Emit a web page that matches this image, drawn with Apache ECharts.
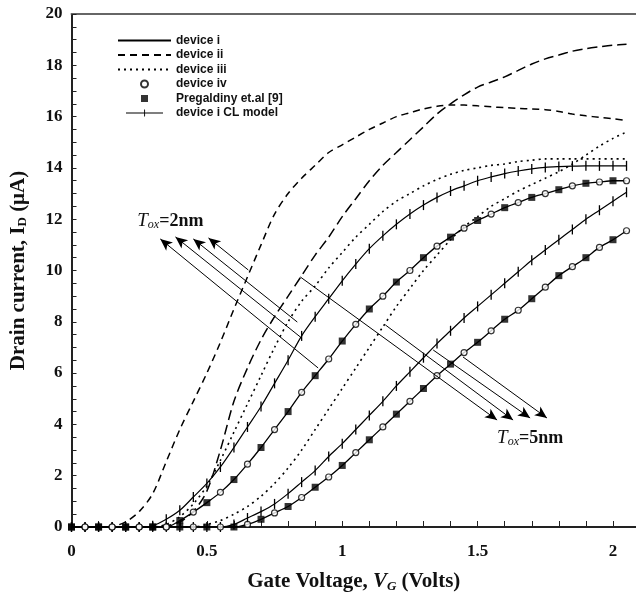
<!DOCTYPE html>
<html>
<head>
<meta charset="utf-8">
<script src="https://cdn.jsdelivr.net/npm/echarts@6/dist/echarts.min.js"></script>
<style>
  html, body { margin: 0; padding: 0; background: #fff; }
  #chart { width: 636px; height: 600px; }
</style>
</head>
<body>
<div id="chart"></div>
<script>
// gate voltage grid (V)
var vg = [0, 0.05, 0.1, 0.15, 0.2, 0.25, 0.3, 0.35, 0.4, 0.45, 0.5, 0.55, 0.6, 0.65, 0.7, 0.75, 0.8, 0.85, 0.9, 0.95,
  1, 1.05, 1.1, 1.15, 1.2, 1.25, 1.3, 1.35, 1.4, 1.45, 1.5, 1.55, 1.6, 1.65, 1.7, 1.75, 1.8, 1.85, 1.9, 1.95, 2, 2.05];

// drain current (uA), Tox = 2nm curves
var devI_2nm = [0, 0, 0, 0, 0, 0, 0, 0, 0.25, 0.58, 0.95, 1.35, 1.85, 2.45, 3.1, 3.8, 4.5, 5.25, 5.9, 6.55,
  7.25, 7.9, 8.5, 9.0, 9.55, 10.0, 10.5, 10.95, 11.3, 11.65, 11.95, 12.2, 12.45, 12.65, 12.85, 13.0, 13.15, 13.3, 13.4, 13.45, 13.5, 13.5];
var devII_2nm = [0, 0, 0, 0.02, 0.2, 0.6, 1.3, 2.55, 3.8, 4.9, 6.0, 7.2, 8.5, 9.75, 11.0, 12.2, 13.0, 13.6, 14.1, 14.6,
  14.9, 15.2, 15.5, 15.75, 16.0, 16.15, 16.3, 16.4, 16.45, 16.45, 16.42, 16.38, 16.35, 16.32, 16.3, 16.27, 16.2, 16.1, 16.03, 15.97, 15.92, 15.85];
var devIII_2nm = [0, 0, 0, 0, 0, 0, 0, 0.1, 0.4, 0.9, 1.6, 2.6, 3.7, 4.8, 5.9, 7.0, 8.0, 8.8, 9.4, 10.1,
  10.7, 11.3, 11.8, 12.3, 12.7, 13.0, 13.3, 13.55, 13.75, 13.9, 14.0, 14.1, 14.15, 14.25, 14.3, 14.35, 14.35, 14.35, 14.35, 14.35, 14.35, 14.35];
var clModel_2nm = [0, 0, 0, 0, 0, 0, 0.05, 0.3, 0.65, 1.17, 1.7, 2.34, 3.1, 3.9, 4.7, 5.6, 6.5, 7.45, 8.2, 8.9,
  9.6, 10.25, 10.85, 11.35, 11.8, 12.2, 12.55, 12.85, 13.1, 13.3, 13.5, 13.65, 13.78, 13.88, 13.96, 14.02, 14.05, 14.07, 14.08, 14.08, 14.08, 14.08];

// drain current (uA), Tox = 5nm curves
var devI_5nm = [0, 0, 0, 0, 0, 0, 0, 0, 0, 0, 0, 0, 0, 0.1, 0.3, 0.55, 0.8, 1.15, 1.55, 1.95,
  2.4, 2.9, 3.4, 3.9, 4.4, 4.9, 5.4, 5.9, 6.35, 6.8, 7.2, 7.65, 8.1, 8.45, 8.9, 9.35, 9.8, 10.15, 10.5, 10.9, 11.2, 11.55];
var devII_5nm = [0, 0, 0, 0, 0, 0, 0, 0.05, 0.2, 0.6, 1.4, 3.0, 4.9, 6.2, 7.3, 8.2, 9.0, 9.8, 10.6, 11.3,
  12.1, 12.8, 13.5, 14.1, 14.6, 15.1, 15.6, 16.1, 16.5, 16.85, 17.15, 17.35, 17.55, 17.8, 18.05, 18.25, 18.4, 18.55, 18.65, 18.72, 18.78, 18.82];
var devIII_5nm = [0, 0, 0, 0, 0, 0, 0, 0, 0, 0, 0.1, 0.25, 0.5, 0.8, 1.2, 1.7, 2.3, 3.0, 3.8, 4.6,
  5.4, 6.2, 7.0, 7.8, 8.6, 9.3, 10.0, 10.6, 11.2, 11.7, 12.1, 12.5, 12.8, 13.1, 13.35, 13.6, 13.85, 14.15, 14.5, 14.85, 15.15, 15.4];
var clModel_5nm = [0, 0, 0, 0, 0, 0, 0, 0, 0, 0, 0, 0, 0.1, 0.35, 0.6, 0.9, 1.3, 1.75, 2.2, 2.75,
  3.25, 3.8, 4.35, 4.9, 5.5, 6.05, 6.6, 7.15, 7.65, 8.15, 8.6, 9.05, 9.5, 9.95, 10.4, 10.8, 11.2, 11.6, 12.0, 12.35, 12.7, 13.05];

// annotation arrows [x0, y0, x1, y1] in data units (tail -> head)
var arrowsTo2nm = [[0.653, 10.02, 0.506, 11.27], [0.834, 7.99, 0.45, 11.23], [0.845, 7.41, 0.384, 11.31], [0.911, 6.2, 0.328, 11.23]];
var arrowsTo5nm = [[0.845, 9.75, 1.572, 4.17], [1.159, 7.88, 1.631, 4.17], [1.336, 6.9, 1.694, 4.25], [1.446, 6.63, 1.756, 4.25]];
var toxLabels = [[0.365, 11.93, '2'], [1.694, 3.47, '5']];

function pairs (ys) {
  return vg.map(function (x, i) { return [x, ys[i]] })
}
// markers sit on the device i curves: circles at odd grid points, squares at even ones
function pick (ys, odd) {
  return pairs(ys).filter(function (p, i) { return (i % 2 === 1) === odd })
}

var serif = 'Liberation Serif'
var chart = echarts.init(document.getElementById('chart'))

function lineSeries (name, ys, type, width) {
  return {
    name: name,
    type: 'line',
    data: pairs(ys),
    symbol: 'none',
    smooth: 0.3,
    lineStyle: { color: '#000', width: width, type: type },
    itemStyle: { color: '#000', opacity: 0 },
    z: 2
  }
}
function clSeries (ys) {
  return {
    name: 'device i CL model',
    type: 'line',
    data: pairs(ys),
    symbol: 'rect',
    symbolSize: [1.3, 10],
    smooth: 0.3,
    lineStyle: { color: '#000', width: 1.2 },
    itemStyle: { color: '#000' },
    z: 3
  }
}

var marks = []
arrowsTo2nm.concat(arrowsTo5nm).forEach(function (a) {
  marks.push([{ coord: [a[0], a[1]], symbol: 'none' }, { coord: [a[2], a[3]], symbol: 'arrow' }])
})

var hidden = { opacity: 0 }
var option = {
  animation: false,
  backgroundColor: '#fff',
  grid: { left: 71, right: 0, top: 14, bottom: 73 },
  legend: {
    orient: 'vertical',
    left: 117,
    top: 34,
    padding: 0,
    itemWidth: 53,
    itemHeight: 7,
    itemGap: 1.5,
    selectedMode: false,
    textStyle: { fontFamily: 'Liberation Sans', fontWeight: 'bold', fontSize: 12, lineHeight: 13, color: '#111' },
    data: [
      { name: 'device i', itemStyle: hidden },
      { name: 'device ii', itemStyle: hidden },
      { name: 'device iii', itemStyle: hidden },
      { name: 'device iv' },
      { name: 'Pregaldiny et.al [9]', icon: 'path://M0,0 H7 V7 H0 Z' },
      { name: 'device i CL model', icon: 'path://M0,4.4 H53 V5.6 H0 Z M26,0 H27.3 V10 H26 Z' }
    ]
  },
  xAxis: [{
    type: 'value',
    min: 0,
    max: 2.085,
    interval: 0.5,
    name: '{b|Gate Voltage, }{i|V}{s|G}{b| (Volts)}',
    nameLocation: 'middle',
    nameGap: 44,
    nameTextStyle: {
      rich: {
        b: { fontFamily: serif, fontWeight: 'bold', fontSize: 21, color: '#111' },
        i: { fontFamily: serif, fontWeight: 'bold', fontStyle: 'italic', fontSize: 21, color: '#111' },
        s: { fontFamily: serif, fontWeight: 'bold', fontStyle: 'italic', fontSize: 13, color: '#111', padding: [9, 0, 0, 0] }
      }
    },
    axisLine: { lineStyle: { color: '#222', width: 2 } },
    axisTick: { inside: true, length: 6, lineStyle: { color: '#222' } },
    minorTick: { show: true, splitNumber: 5, length: 6, lineStyle: { color: '#222' } },
    splitLine: { show: false },
    axisLabel: {
      showMaxLabel: false,
      margin: 16,
      fontFamily: serif,
      fontWeight: 'bold',
      fontSize: 17,
      color: '#111',
      formatter: function (v) { return Math.abs(v * 2 - Math.round(v * 2)) < 1e-6 ? String(v) : '' }
    }
  }, {
    type: 'value',
    position: 'top',
    min: 0,
    max: 2.085,
    axisLine: { show: true, lineStyle: { color: '#666', width: 2 } },
    axisTick: { show: false },
    axisLabel: { show: false },
    splitLine: { show: false }
  }],
  yAxis: {
    type: 'value',
    min: 0,
    max: 20,
    interval: 2,
    name: '{b|Drain current, I}{s|D}{b| (μA)}',
    nameLocation: 'middle',
    nameRotate: 90,
    nameGap: 42,
    nameTextStyle: {
      rich: {
        b: { fontFamily: serif, fontWeight: 'bold', fontSize: 21, color: '#111' },
        s: { fontFamily: serif, fontWeight: 'bold', fontSize: 13, color: '#111', padding: [9, 0, 0, 0] }
      }
    },
    axisLine: { show: true, lineStyle: { color: '#222', width: 2 } },
    axisTick: { inside: true, length: 5, lineStyle: { color: '#222' } },
    minorTick: { show: true, splitNumber: 4, length: 5, lineStyle: { color: '#222' } },
    splitLine: { show: false },
    axisLabel: { margin: 9, fontFamily: serif, fontWeight: 'bold', fontSize: 17, color: '#111' }
  },
  series: [
    lineSeries('device i', devI_2nm, 'solid', 1.3),
    lineSeries('device i', devI_5nm, 'solid', 1.3),
    lineSeries('device ii', devII_2nm, [7, 5], 1.5),
    lineSeries('device ii', devII_5nm, [10, 5], 1.5),
    lineSeries('device iii', devIII_2nm, [2, 4], 1.6),
    lineSeries('device iii', devIII_5nm, [2, 4], 1.6),
    {
      name: 'device iv',
      type: 'scatter',
      data: pick(devI_2nm, true).concat(pick(devI_5nm, true)),
      symbol: 'circle',
      symbolSize: 6,
      itemStyle: { color: '#fff', borderColor: '#000', borderWidth: 1.2 },
      z: 4
    },
    {
      name: 'Pregaldiny et.al [9]',
      type: 'scatter',
      data: pick(devI_2nm, false).concat(pick(devI_5nm, false)),
      symbol: 'rect',
      symbolSize: 7,
      itemStyle: { color: '#000' },
      z: 4
    },
    clSeries(clModel_2nm),
    clSeries(clModel_5nm),
    {
      name: 'notes',
      type: 'line',
      data: [],
      silent: true,
      markLine: {
        silent: true,
        symbolSize: [8, 12],
        label: { show: false },
        lineStyle: { color: '#000', width: 1, type: 'solid' },
        emphasis: { disabled: true },
        data: marks
      },
      markPoint: {
        silent: true,
        symbol: 'circle',
        symbolSize: 1,
        itemStyle: { color: 'rgba(0,0,0,0)' },
        label: {
          show: true,
          position: 'inside',
          formatter: function (p) { return '{t|T}{s|ox}{n|=' + p.name + 'nm}' },
          rich: {
            t: { fontFamily: serif, fontStyle: 'italic', fontSize: 19, color: '#111' },
            s: { fontFamily: serif, fontStyle: 'italic', fontSize: 12, color: '#111', padding: [8, 0, 0, 0] },
            n: { fontFamily: serif, fontWeight: 'bold', fontSize: 18, color: '#111' }
          }
        },
        data: toxLabels.map(function (t) { return { name: t[2], coord: [t[0], t[1]] } })
      }
    }
  ]
}
chart.setOption(option)
</script>
</body>
</html>
